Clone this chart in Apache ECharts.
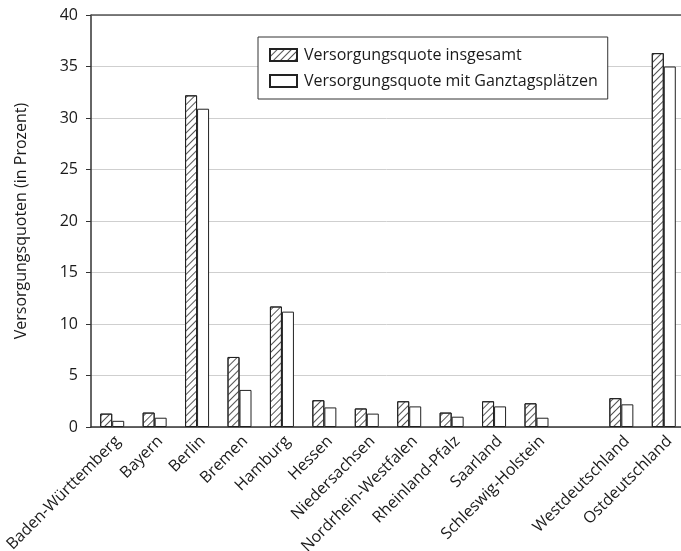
<!DOCTYPE html>
<html>
<head>
<meta charset="utf-8">
<script src="https://cdn.jsdelivr.net/npm/echarts@6/dist/echarts.min.js"></script>
<style>
  html, body { margin: 0; padding: 0; background: #fff; overflow: hidden; }
  #main { width: 681px; height: 551px; }
</style>
</head>
<body>
<div id="main"></div>
<script>
// Länder (leere Kategorie als Abstand vor West/Ost)
var laender = ['Baden-Württemberg', 'Bayern', 'Berlin', 'Bremen', 'Hamburg', 'Hessen',
  'Niedersachsen', 'Nordrhein-Westfalen', 'Rheinland-Pfalz', 'Saarland',
  'Schleswig-Holstein', '', 'Westdeutschland', 'Ostdeutschland'];
var quoteGesamt = [1.3, 1.4, 32.2, 6.8, 11.7, 2.6, 1.8, 2.5, 1.4, 2.5, 2.3, null, 2.8, 36.3];
var quoteGanztag = [0.6, 0.9, 30.9, 3.6, 11.2, 1.9, 1.3, 2.0, 1.0, 2.0, 0.9, null, 2.2, 35.0];
var yTicks = [0, 5, 10, 15, 20, 25, 30, 35, 40];

var font = 'Open Sans';
var chart = echarts.init(document.getElementById('main'));

var option = {
  animation: false,
  textStyle: { fontFamily: font, color: '#222' },
  grid: { left: 91, top: 15, width: 594, height: 412, outerBoundsMode: 'none', containLabel: false },
  legend: {
    orient: 'vertical',
    left: 258,
    top: 37,
    padding: [10, 10, 10, 11],
    itemGap: 10,
    itemWidth: 27,
    itemHeight: 12,
    icon: 'rect',
    backgroundColor: '#fff',
    borderColor: '#333',
    borderWidth: 1,
    borderRadius: 0,
    textStyle: { fontFamily: font, fontSize: 16, color: '#1a1a1a', padding: [0, 0, 0, 2] },
    data: ['Versorgungsquote insgesamt', 'Versorgungsquote mit Ganztagsplätzen']
  },
  xAxis: {
    type: 'category',
    data: laender,
    axisLine: { lineStyle: { color: '#333', width: 1.5 } },
    axisTick: { length: 5, lineStyle: { color: '#333' } },
    axisLabel: {
      rotate: 45, fontSize: 16, color: '#1a1a1a', fontFamily: font,
      margin: 6, interval: 0, verticalAlign: 'top'
    }
  },
  yAxis: {
    type: 'value',
    min: yTicks[0],
    max: yTicks[yTicks.length - 1],
    interval: 5,
    name: 'Versorgungsquoten (in Prozent)',
    nameLocation: 'middle',
    nameGap: 62,
    nameTextStyle: { fontSize: 16, color: '#1a1a1a', fontFamily: font },
    axisLine: { show: true, lineStyle: { color: '#333', width: 1.5 } },
    axisTick: { show: true, length: 5, lineStyle: { color: '#333' } },
    axisLabel: { fontSize: 16, color: '#1a1a1a', fontFamily: font, margin: 13 },
    splitLine: { lineStyle: { color: '#cfcfcf', width: 1 } }
  },
  series: [{
    name: 'Versorgungsquote insgesamt',
    type: 'bar',
    data: quoteGesamt,
    barWidth: 12,
    barGap: '0%',
    itemStyle: {
      color: '#fff',
      borderColor: '#222',
      borderWidth: 1,
      decal: {
        symbol: 'rect',
        color: '#555',
        dashArrayX: [1, 0],
        dashArrayY: [1, 3.5],
        rotation: -Math.PI / 4
      }
    },
    // obere Rahmenlinie bei 40
    markLine: {
      silent: true,
      symbol: 'none',
      label: { show: false },
      lineStyle: { color: '#555', width: 1.5, type: 'solid' },
      data: [{ yAxis: yTicks[yTicks.length - 1] }]
    }
  }, {
    name: 'Versorgungsquote mit Ganztagsplätzen',
    type: 'bar',
    data: quoteGanztag,
    barWidth: 12,
    barGap: '0%',
    itemStyle: { color: '#fff', borderColor: '#222', borderWidth: 1 }
  }]
};

chart.setOption(option);
</script>
</body>
</html>
